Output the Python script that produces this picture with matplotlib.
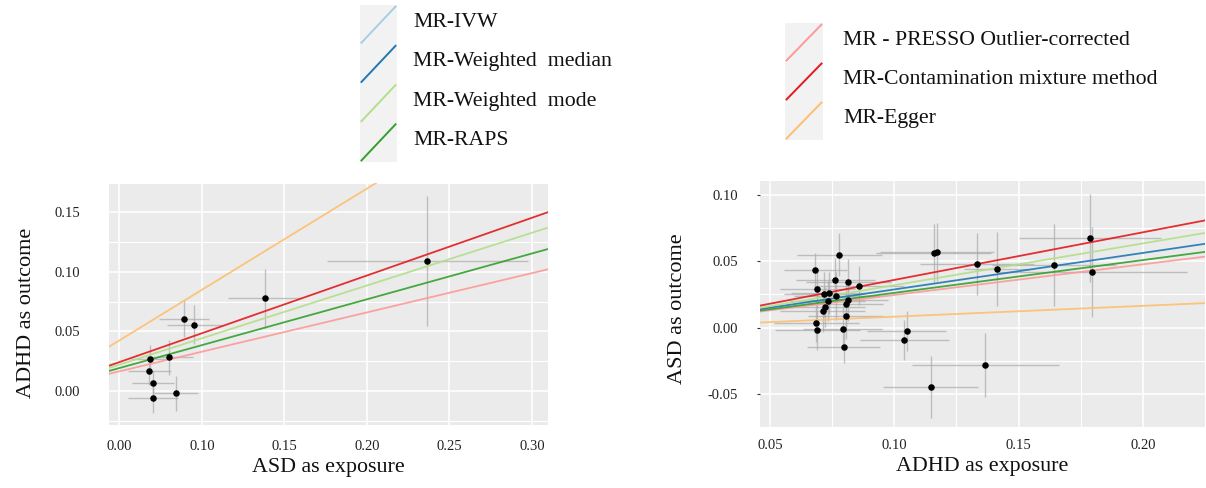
import matplotlib
matplotlib.use('Agg')
import matplotlib.pyplot as plt
from matplotlib.lines import Line2D
import numpy as np

plt.rcParams['font.family'] = ['Liberation Serif', 'DejaVu Serif']

# ---------------- data ----------------
# Left panel: ASD as exposure -> ADHD as outcome
asd_exp = [0.0688, 0.0803, 0.0682, 0.0706, 0.0706, 0.0844, 0.0890, 0.0955, 0.1383, 0.2365]
asd_exp_se = [0.012, 0.0142, 0.0131, 0.0127, 0.0152, 0.0132, 0.0152, 0.0167, 0.0224, 0.0609]
adhd_out = [0.0270, 0.0283, 0.0167, 0.0067, -0.0063, -0.0019, 0.0608, 0.0558, 0.0778, 0.1090]
adhd_out_se = [0.0118, 0.0146, 0.012, 0.010, 0.0125, 0.0146, 0.0153, 0.0163, 0.025, 0.0546]

left_methods = ['MR-Egger', 'MR - PRESSO Outlier-corrected', 'MR-RAPS',
                'MR-Weighted mode', 'MR-Contamination mixture method']
left_slopes = [0.850, 0.330, 0.385, 0.443, 0.485]
left_intercepts = [0.0, 0.0, 0.0, 0.0, 0.0]

# Right panel: ADHD as exposure -> ASD as outcome
adhd_exp = [0.0779, 0.0683, 0.0691, 0.0763, 0.0815, 0.0858, 0.0736, 0.0716, 0.0767, 0.0732,
            0.0815, 0.0804, 0.0723, 0.0712, 0.0804, 0.0687, 0.0691, 0.0792, 0.0796, 0.1050,
            0.1041, 0.1158, 0.1172, 0.1333, 0.1412, 0.1146, 0.1367, 0.1642, 0.1787, 0.1797]
adhd_exp_se = [0.017, 0.0127, 0.015, 0.016, 0.017, 0.018, 0.015, 0.016, 0.017, 0.015,
               0.016, 0.015, 0.016, 0.017, 0.015, 0.017, 0.017, 0.016, 0.0147, 0.016,
               0.018, 0.023, 0.023, 0.023, 0.013, 0.0192, 0.0296, 0.025, 0.0285, 0.038]
asd_out = [0.0551, 0.0434, 0.0292, 0.0363, 0.0347, 0.0317, 0.0262, 0.0252, 0.0239, 0.0202,
           0.0207, 0.0177, 0.0154, 0.0126, 0.0086, 0.0033, -0.0017, -0.0008, -0.0144, -0.0025,
           -0.0095, 0.0566, 0.0574, 0.0481, 0.0440, -0.0450, -0.0284, 0.0474, 0.0677, 0.0418]
asd_out_se = [0.0164, 0.0132, 0.015, 0.016, 0.017, 0.015, 0.016, 0.017, 0.018, 0.015,
              0.016, 0.017, 0.015, 0.016, 0.017, 0.014, 0.015, 0.016, 0.0125, 0.015,
              0.015, 0.022, 0.022, 0.0234, 0.028, 0.0234, 0.0245, 0.031, 0.033, 0.034]

right_methods = ['MR-Egger', 'MR - PRESSO Outlier-corrected', 'MR-RAPS',
                 'MR-Weighted median', 'MR-Weighted mode', 'MR-Contamination mixture method']
right_slopes = [0.082, 0.232, 0.248, 0.276, 0.316, 0.360]
right_intercepts = [0.0, 0.0014, 0.0014, 0.0012, 0.0004, 0.0]

# legend entries
legend1_labels = ['MR-IVW', 'MR-Weighted  median', 'MR-Weighted  mode', 'MR-RAPS']
legend2_labels = ['MR - PRESSO Outlier-corrected', 'MR-Contamination mixture method', 'MR-Egger']

colors = {
    'MR-IVW': '#A6CEE3',
    'MR-Weighted median': '#1F78B4',
    'MR-Weighted mode': '#B2DF8A',
    'MR-RAPS': '#33A02C',
    'MR - PRESSO Outlier-corrected': '#FB9A99',
    'MR-Contamination mixture method': '#E31A1C',
    'MR-Egger': '#FDBF6F',
}

# ---------------- figure ----------------
W, H = 1206, 488
fig = plt.figure(figsize=(W / 100, H / 100), dpi=100)
fig.patch.set_facecolor('white')


def px_rect(x0, y0, x1, y1):
    return [x0 / W, (H - y1) / H, (x1 - x0) / W, (y1 - y0) / H]


def style_panel(ax):
    ax.set_facecolor('#EBEBEB')
    for s in ax.spines.values():
        s.set_visible(False)
    ax.set_axisbelow(True)


def draw_panel(ax, x, xse, y, yse, methods, slopes, intercepts):
    for m, b, a in zip(methods, slopes, intercepts):
        ax.axline((0, a), slope=b, color=colors[m], lw=1.3, alpha=0.9, zorder=2)
    ax.errorbar(x, y, xerr=xse, yerr=yse, fmt='none', ecolor='#AAAAAA',
                elinewidth=1.0, alpha=0.7, capsize=0, zorder=1.5)
    ax.scatter(x, y, s=22, color='black', zorder=3, linewidths=0)


LABEL_FS = 15.8
TICK_FS = 10.5

# Left panel
axL = fig.add_axes(px_rect(109, 182.7, 548, 425))
style_panel(axL)
draw_panel(axL, asd_exp, asd_exp_se, adhd_out, adhd_out_se,
           left_methods, left_slopes, left_intercepts)
axL.set_xlim(0.0437, 0.3098)
axL.set_ylim(-0.0286, 0.174)
xt = [0.05, 0.10, 0.15, 0.20, 0.25, 0.30]
axL.set_xticks(xt)
axL.set_xticklabels(['0.00', '0.10', '0.15', '0.20', '0.25', '0.30'])
axL.set_yticks([0.00, 0.05, 0.10, 0.15])
axL.set_yticklabels(['0.00', '0.05', '0.10', '0.15'])
axL.set_yticks([-0.025, 0.025, 0.075, 0.125, 0.175], minor=True)
axL.grid(True, which='major', color='white', lw=1.1)
axL.grid(True, which='minor', axis='y', color='white', lw=0.8)
axL.tick_params(axis='both', which='both', length=0, labelsize=TICK_FS, colors='#222222')
axL.tick_params(axis='x', pad=11)
axL.tick_params(axis='y', pad=21)
axL.set_xlabel('ASD as exposure', fontsize=LABEL_FS, labelpad=3.5, color='#111111')
axL.set_ylabel('ADHD as outcome', fontsize=16, color='#111111')
axL.yaxis.set_label_coords(-0.167, 0.462)

# Right panel
axR = fig.add_axes(px_rect(760, 181, 1205, 426.7))
style_panel(axR)
draw_panel(axR, adhd_exp, adhd_exp_se, asd_out, asd_out_se,
           right_methods, right_slopes, right_intercepts)
axR.set_xlim(0.046, 0.2243)
axR.set_ylim(-0.0748, 0.1108)
axR.set_xticks([0.05, 0.10, 0.15, 0.20])
axR.set_xticklabels(['0.05', '0.10', '0.15', '0.20'])
axR.set_xticks([0.075, 0.125, 0.175, 0.225], minor=True)
axR.set_yticks([-0.05, 0.00, 0.05, 0.10])
axR.set_yticklabels(['-0.05', '0.00', '0.05', '0.10'])
axR.set_yticks([-0.075, -0.025, 0.025, 0.075], minor=True)
axR.grid(True, which='major', color='white', lw=1.1)
axR.grid(True, which='minor', color='white', lw=0.8)
axR.tick_params(axis='both', which='both', length=0, labelsize=TICK_FS, colors='#222222')
axR.tick_params(axis='y', which='major', length=2, color='#333333', width=0.8)
axR.tick_params(axis='x', pad=9)
axR.tick_params(axis='y', pad=14)
axR.set_xlabel('ADHD as exposure', fontsize=LABEL_FS, labelpad=3.5, color='#111111')
axR.set_ylabel('ASD as outcome', fontsize=16, color='#111111')
axR.yaxis.set_label_coords(-0.164, 0.479)


def draw_legend(x0, y0, x1, y1, labels, text_x):
    n = len(labels)
    kax = fig.add_axes(px_rect(x0, y0, x1, y1))
    kax.set_facecolor('#F2F2F2')
    for s in kax.spines.values():
        s.set_visible(False)
    kax.set_xticks([])
    kax.set_yticks([])
    kax.set_xlim(0, 1)
    kax.set_ylim(0, n)
    cell = (y1 - y0) / n
    for i, lab in enumerate(labels):
        key = ' '.join(lab.split())
        row = n - 1 - i
        kax.add_line(Line2D([0.04, 0.96], [row + 0.04, row + 0.96],
                            color=colors[key], lw=1.4))
        yc = y0 + cell * (i + 0.5) - 2
        fig.text(text_x / W, (H - yc) / H, lab, fontsize=15.7, va='center',
                 ha='left', color='#111111')


draw_legend(360, 5, 397, 162, legend1_labels, 413)
draw_legend(785, 23, 823, 140, legend2_labels, 843)

fig.savefig('out.png', dpi=100, facecolor='white')
